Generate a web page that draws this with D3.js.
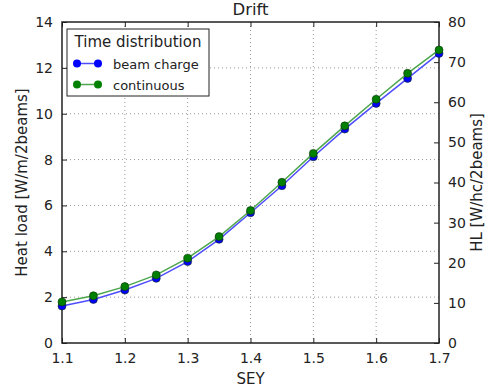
<!DOCTYPE html>
<html>
<head>
<meta charset="utf-8">
<script src="https://cdn.jsdelivr.net/npm/d3@7"></script>
<style>
body { margin: 0; background: #fff; }
text { font-family: "DejaVu Sans", sans-serif; fill: #222; }
</style>
</head>
<body>
<div id="chart"></div>
<script>
// data
var sey = [1.1, 1.15, 1.2, 1.25, 1.3, 1.35, 1.4, 1.45, 1.5, 1.55, 1.6, 1.65, 1.7];
var beamCharge = [1.61, 1.9, 2.31, 2.82, 3.55, 4.52, 5.68, 6.86, 8.12, 9.33, 10.45, 11.54, 12.63];
var continuous = [1.79, 2.06, 2.46, 2.97, 3.7, 4.64, 5.78, 7.01, 8.27, 9.47, 10.63, 11.76, 12.78];
var xTicks = [1.1, 1.2, 1.3, 1.4, 1.5, 1.6, 1.7];
var yTicks = [0, 2, 4, 6, 8, 10, 12, 14];
var y2Ticks = [0, 10, 20, 30, 40, 50, 60, 70, 80];

var margin = {top: 22, right: 50, bottom: 48, left: 62},
    width = 489 - margin.left - margin.right,
    height = 391 - margin.top - margin.bottom;

var svg = d3.select("#chart")
    .append("svg")
    .attr("width", 489)
    .attr("height", 391)
    .append("g")
    .attr("transform", "translate(" + margin.left + "," + margin.top + ")");

var x = d3.scaleLinear().domain([1.1, 1.7]).range([0, width]);
var y = d3.scaleLinear().domain([0, 14]).range([height, 0]);
var y2 = d3.scaleLinear().domain([0, 80]).range([height, 0]);

// grid
svg.append("g").selectAll("line")
    .data(xTicks.slice(1, -1))
    .enter().append("line")
    .attr("x1", d => x(d)).attr("x2", d => x(d))
    .attr("y1", 0).attr("y2", height)
    .style("stroke", "#999").style("stroke-dasharray", "1,3");
svg.append("g").selectAll("line")
    .data(yTicks.slice(1, -1))
    .enter().append("line")
    .attr("x1", 0).attr("x2", width)
    .attr("y1", d => y(d)).attr("y2", d => y(d))
    .style("stroke", "#999").style("stroke-dasharray", "1,3");

// axes (ticks inward)
function styleAxis(g) {
    g.select(".domain").remove();
    g.selectAll("line").style("stroke", "#222");
    g.selectAll("text").style("font-size", "14px").style("font-family", "DejaVu Sans, sans-serif").style("fill", "#222");
}
svg.append("g")
    .attr("transform", "translate(0," + height + ")")
    .call(d3.axisBottom(x).tickValues(xTicks).tickFormat(d3.format(".1f")).tickSizeInner(-5).tickPadding(10))
    .call(styleAxis);
svg.append("g")
    .call(d3.axisTop(x).tickValues(xTicks).tickSizeInner(-5).tickFormat(""))
    .call(styleAxis);
svg.append("g")
    .call(d3.axisLeft(y).tickValues(yTicks).tickSizeInner(-5).tickPadding(9))
    .call(styleAxis);
svg.append("g")
    .attr("transform", "translate(" + width + ",0)")
    .call(d3.axisRight(y2).tickValues(y2Ticks).tickSizeInner(-5).tickPadding(9))
    .call(styleAxis);

// frame
svg.append("rect")
    .attr("width", width).attr("height", height)
    .style("fill", "none").style("stroke", "#222").style("stroke-width", 1.5);

// series
var series = [
    {name: "beam charge", values: beamCharge, color: "#0000ff", line: "#4d4dff"},
    {name: "continuous", values: continuous, color: "#008000", line: "#4da64d"}
];
var line = d3.line().x((d, i) => x(sey[i])).y(d => y(d));

series.forEach(function(s) {
    svg.append("path")
        .datum(s.values)
        .attr("d", line)
        .style("fill", "none").style("stroke", s.line).style("stroke-width", 1.5);
    svg.selectAll(null)
        .data(s.values)
        .enter().append("circle")
        .attr("cx", (d, i) => x(sey[i]))
        .attr("cy", d => y(d))
        .attr("r", 4)
        .style("fill", s.color)
        .style("stroke", "#103010").style("stroke-width", 0.6);
});

// legend
var lg = svg.append("g").attr("transform", "translate(5,7)");
lg.append("rect").attr("width", 142).attr("height", 67)
    .style("fill", "#fff").style("stroke", "#222").style("stroke-width", 1);
lg.append("text").attr("x", 71).attr("y", 18).attr("text-anchor", "middle")
    .style("font-size", "15px").text("Time distribution");
series.forEach(function(s, i) {
    var yy = 34.5 + i * 21;
    lg.append("line").attr("x1", 10).attr("x2", 31).attr("y1", yy).attr("y2", yy)
        .style("stroke", s.line).style("stroke-width", 1.5);
    lg.append("circle").attr("cx", 10).attr("cy", yy).attr("r", 4).style("fill", s.color);
    lg.append("circle").attr("cx", 31).attr("cy", yy).attr("r", 4).style("fill", s.color);
    lg.append("text").attr("x", 46).attr("y", yy + 5).style("font-size", "13px").text(s.name);
});

// titles and labels
svg.append("text").attr("x", width / 2).attr("y", -7).attr("text-anchor", "middle")
    .style("font-size", "16.5px").text("Drift");
svg.append("text").attr("x", width / 2).attr("y", height + 41).attr("text-anchor", "middle")
    .style("font-size", "15px").text("SEY");
svg.append("text").attr("transform", "translate(-35," + height / 2 + ") rotate(-90)")
    .attr("text-anchor", "middle").style("font-size", "15px").text("Heat load [W/m/2beams]");
svg.append("text").attr("transform", "translate(" + (width + 43) + "," + height / 2 + ") rotate(-90)")
    .attr("text-anchor", "middle").style("font-size", "15px").text("HL [W/hc/2beams]");
</script>
</body>
</html>
